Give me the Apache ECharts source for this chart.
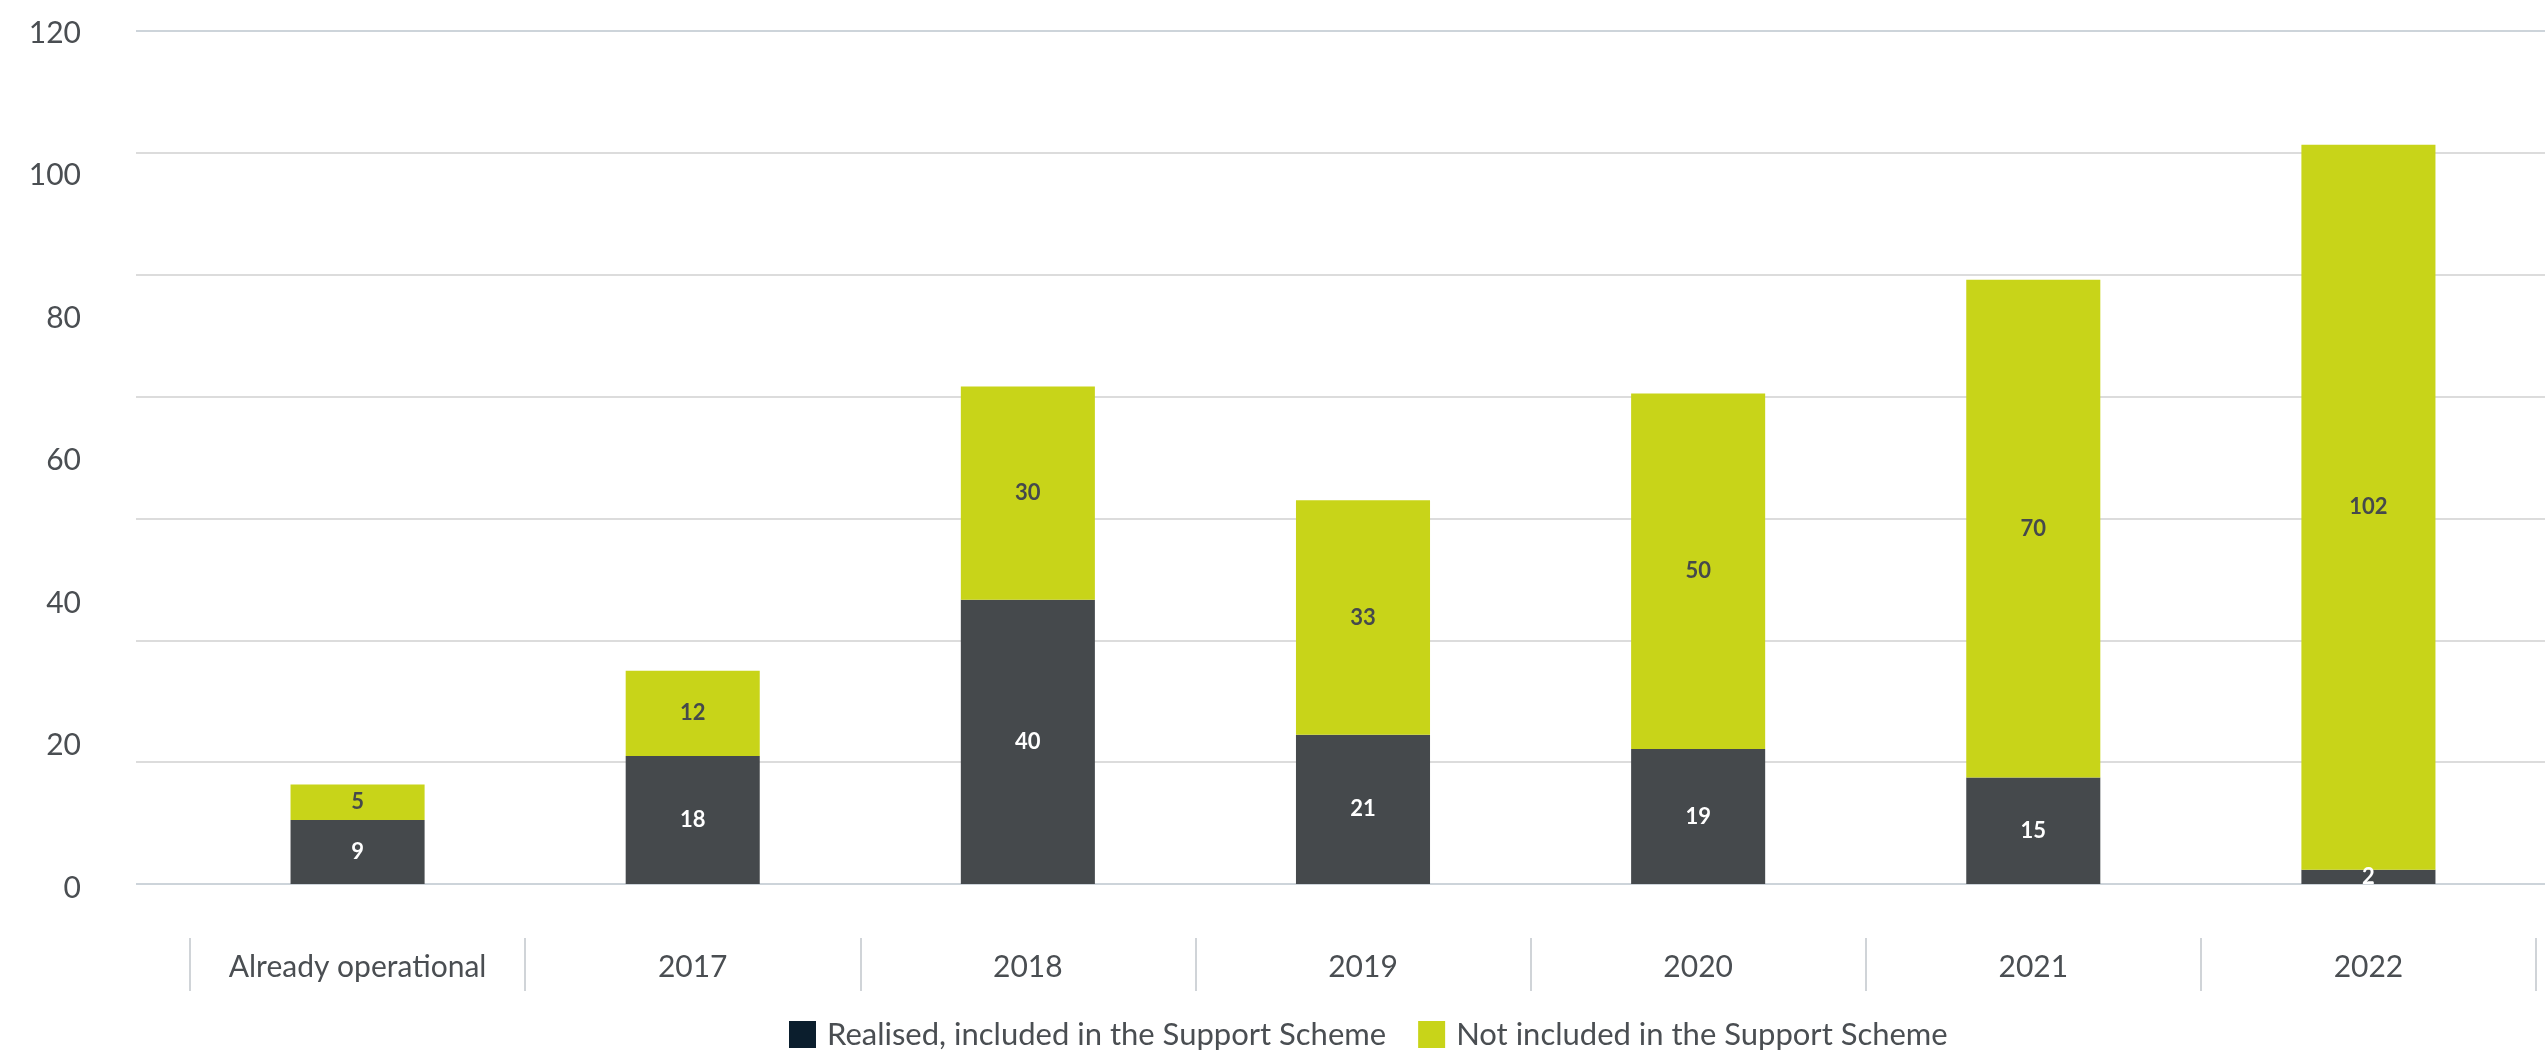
<!DOCTYPE html>
<html>
<head>
<meta charset="utf-8">
<style>
  html, body { margin: 0; padding: 0; background: #ffffff; }
  #chart { width: 2545px; height: 1051px; }
</style>
<script src="https://cdn.jsdelivr.net/npm/echarts@6/dist/echarts.min.js"></script>
</head>
<body>
<div id="chart"></div>
<script>
// Categories and stacked values
const categories = ['Already operational', '2017', '2018', '2019', '2020', '2021', '2022'];
const realised = [9, 18, 40, 21, 19, 15, 2];
const notIncluded = [5, 12, 30, 33, 50, 70, 102];
const seriesNames = ['Realised, included in the Support Scheme', 'Not included in the Support Scheme'];
const yTickLabels = [0, 20, 40, 60, 80, 100, 120];

const textColor = '#4a4e52';
const barDark = '#45494c';
const barLime = '#c8d419';
const legendDark = '#0b1e2d';
const fontFamily = 'Lato, "Open Sans", sans-serif';

const yMax = yTickLabels[yTickLabels.length - 1];
const gridBands = 7;

const chart = echarts.init(document.getElementById('chart'));
chart.setOption({
  animation: false,
  textStyle: { fontFamily: fontFamily },
  grid: [
    // bars
    { left: 190, right: 9, top: 31, height: 853 },
    // horizontal rules
    { left: 136, right: 0, top: 31, height: 853 },
    // value labels
    { left: 136, right: 0, top: 33, height: 855 },
    // category labels with separators below the baseline
    { left: 190, right: 9, top: 31, height: 907 }
  ],
  legend: {
    left: 784,
    top: 1014,
    itemWidth: 27,
    itemHeight: 27,
    itemGap: 32,
    icon: 'rect',
    textStyle: { fontSize: 31, color: textColor, fontFamily: fontFamily, padding: [0, 0, 0, 6] },
    data: [
      { name: seriesNames[0], itemStyle: { color: legendDark } },
      { name: seriesNames[1], itemStyle: { color: barLime } }
    ]
  },
  xAxis: [
    { type: 'category', gridIndex: 0, data: categories, show: false },
    { type: 'value', gridIndex: 1, show: false },
    { type: 'value', gridIndex: 2, show: false },
    {
      type: 'category',
      gridIndex: 3,
      data: categories,
      axisLine: { show: false },
      axisTick: { show: true, length: 53, lineStyle: { color: '#d0d4d8', width: 2 } },
      axisLabel: { fontSize: 30, color: textColor, margin: 14, interval: 0 }
    }
  ],
  yAxis: [
    { type: 'value', gridIndex: 0, min: 0, max: yMax, show: false },
    {
      type: 'value', gridIndex: 1, min: 0, max: yMax, interval: yMax / gridBands,
      axisLine: { show: false }, axisTick: { show: false }, axisLabel: { show: false },
      splitLine: {
        show: true,
        lineStyle: {
          width: 2,
          color: ['#cdd4da', '#dcdcdc', '#dcdcdc', '#dcdcdc', '#dcdcdc', '#dcdcdc', '#dcdcdc', '#dcdcdc']
        }
      }
    },
    {
      type: 'value', gridIndex: 2, min: 0, max: yMax, interval: 20,
      axisLine: { show: false }, axisTick: { show: false }, splitLine: { show: false },
      axisLabel: { fontSize: 30, color: textColor, margin: 55 }
    },
    { type: 'value', gridIndex: 3, show: false }
  ],
  series: [
    {
      name: seriesNames[0],
      type: 'bar',
      stack: 'total',
      xAxisIndex: 0,
      yAxisIndex: 0,
      barWidth: '40%',
      itemStyle: { color: barDark },
      label: { show: true, position: 'inside', color: '#ffffff', fontSize: 22, fontWeight: 'bold' },
      data: realised
    },
    {
      name: seriesNames[1],
      type: 'bar',
      stack: 'total',
      xAxisIndex: 0,
      yAxisIndex: 0,
      barWidth: '40%',
      itemStyle: { color: barLime },
      label: { show: true, position: 'inside', color: barDark, fontSize: 22, fontWeight: 'bold' },
      data: notIncluded
    }
  ]
});
</script>
</body>
</html>
